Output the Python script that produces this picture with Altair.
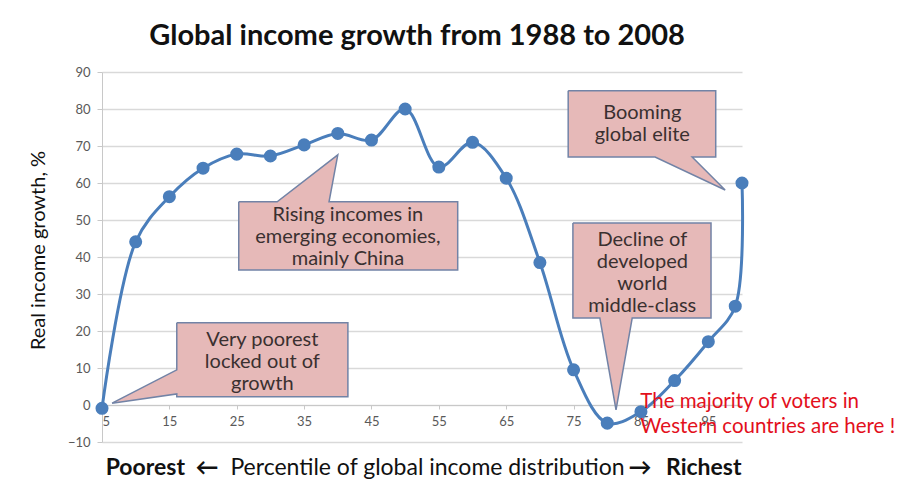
import altair as alt
import pandas as pd

# ---------------- data ----------------
percentile = [5, 10, 15, 20, 25, 30, 35, 40, 45, 50, 55, 60, 65, 70, 75, 80, 85, 90, 95, 99, 100]
growth = [-0.9, 44.1, 56.3, 64.0, 67.8, 67.3, 70.3, 73.4, 71.6, 80.0, 64.3, 71.0, 61.3, 38.5,
          9.5, -4.9, -1.8, 6.6, 17.1, 26.7, 60.0]

x_tick_values = [5, 15, 25, 35, 45, 55, 65, 75, 85, 95]
y_tick_values = [-10, 0, 10, 20, 30, 40, 50, 60, 70, 80, 90]

title_text = "Global income growth from 1988 to 2008"
y_title = "Real income growth, %"

# callout labels and the position of their first text line, in data units
callout_labels = [
    "Very poorest\nlocked out of\ngrowth",
    "Rising incomes in\nemerging economies,\nmainly China",
    "Booming\nglobal elite",
    "Decline of\ndeveloped\nworld\nmiddle-class",
]
callout_text_x = [28.8, 41.5, 85.2, 85.2]
callout_text_y = [17.6, 51.4, 78.9, 44.6]

# callout outlines (box + pointer), vertices in data units
callout_shape_x = [
    [16.1, 41.5, 41.5, 16.1, 16.1, 6.5, 16.1, 16.1],
    [25.3, 31.0, 40.0, 38.7, 57.8, 57.8, 25.3, 25.3],
    [74.2, 96.1, 96.1, 92.6, 97.5, 87.1, 74.2, 74.2],
    [74.9, 95.4, 95.4, 83.7, 81.3, 78.9, 74.9, 74.9],
]
callout_shape_y = [
    [22.2, 22.2, 2.2, 2.2, 3.0, 0.5, 9.5, 22.2],
    [54.9, 54.9, 67.6, 54.9, 54.9, 36.5, 36.5, 54.9],
    [84.9, 84.9, 67.0, 67.0, 58.1, 67.0, 67.0, 84.9],
    [49.2, 49.2, 23.5, 23.5, -1.35, 23.5, 23.5, 49.2],
]

note_text = "The majority of voters in\nWestern countries are here !"
note_x = 84.9
note_y = 0.8

x_title_parts = ["Poorest", "\u2190", "Percentile of global income distribution", "\u2192", "Richest"]

# ---------------- tables ----------------
df = pd.DataFrame({"x": percentile, "y": growth})

rows = []
for i, (xs, ys) in enumerate(zip(callout_shape_x, callout_shape_y)):
    for j, (a, b) in enumerate(zip(xs, ys)):
        rows.append({"id": i, "ord": j, "x": a, "y": b})
shapes = pd.DataFrame(rows)
labels = pd.DataFrame({"t": callout_labels, "x": callout_text_x, "y": callout_text_y})
note = pd.DataFrame({"t": [note_text], "x": [note_x], "y": [note_y]})

FONT = "Lato"
BLUE = "#4a7ebb"
XS = alt.Scale(domain=[5, 100], nice=False, zero=False)
YS = alt.Scale(domain=[-10, 90], nice=False, zero=False)

x_axis = alt.Axis(values=x_tick_values, grid=False, offset=-37, domainColor="#c8c8c8",
                  tickColor="#c8c8c8", tickSize=4, labelPadding=6, labelColor="#595959",
                  labelFontSize=13, labelFont=FONT, title=None, labelAngle=0)
y_axis = alt.Axis(values=y_tick_values, grid=True, gridColor="#d9d9d9", gridWidth=1.5,
                  domainColor="#c8c8c8", tickColor="#c8c8c8", tickSize=5, labelPadding=7,
                  labelColor="#595959", labelFontSize=13, labelFont=FONT,
                  title=y_title, titleFont=FONT, titleFontSize=20, titleFontWeight="normal",
                  titleColor="#111111", titleAngle=270, titleAlign="center",
                  titleBaseline="middle", titleX=-64, titleY=178)

X = alt.X("x:Q", scale=XS, axis=x_axis)
Y = alt.Y("y:Q", scale=YS, axis=y_axis)

line = alt.Chart(df).mark_line(interpolate="catmull-rom", color=BLUE, strokeWidth=3).encode(x=X, y=Y)
pts = alt.Chart(df).mark_circle(size=170, color=BLUE, opacity=1).encode(x=X, y=Y)
callouts = alt.Chart(shapes).mark_line(fill="#e6b9b8", stroke="#7283a6", strokeWidth=1.5,
                                       interpolate="linear", strokeJoin="miter").encode(
    x=X, y=Y, order="ord:Q", detail="id:N")
callout_text = alt.Chart(labels).mark_text(align="center", baseline="middle", lineBreak="\n",
                                           lineHeight=22, fontSize=20, font=FONT,
                                           color="#3a3030").encode(x=X, y=Y, text="t:N")
note_mark = alt.Chart(note).mark_text(align="left", baseline="middle", lineBreak="\n",
                                      lineHeight=25, fontSize=20.5, font=FONT,
                                      color="#e3101c").encode(x=X, y=Y, text="t:N")

# x axis title pieces
xt = pd.DataFrame({"t": x_title_parts})
def piece(i, x, align, bold, size):
    return alt.Chart(xt.iloc[[i]]).mark_text(
        align=align, baseline="middle", fontSize=size, font=FONT,
        fontWeight="bold" if bold else "normal", color="#111111").encode(
        x=alt.value(x), y=alt.value(396), text="t:N")

xtitle = (piece(0, 83, "right", True, 23) + piece(1, 105, "center", True, 23) +
          piece(2, 325.5, "center", False, 23) + piece(3, 538, "center", True, 23) +
          piece(4, 564, "left", True, 23))

chart = alt.layer(line, pts, callouts, callout_text, note_mark, xtitle).properties(
    width=640, height=370,
    title=alt.TitleParams(title_text, font=FONT, fontSize=29, fontWeight="bold",
                          color="#111111", anchor="middle", frame="group", offset=15, dx=-5),
    autosize=alt.AutoSizeParams(type="none"),
    padding={"left": 102, "top": 72, "right": 162, "bottom": 56},
    background="white",
).configure_view(stroke=None)

chart.save("out.html", embed_options={"renderer": "svg", "actions": False})
